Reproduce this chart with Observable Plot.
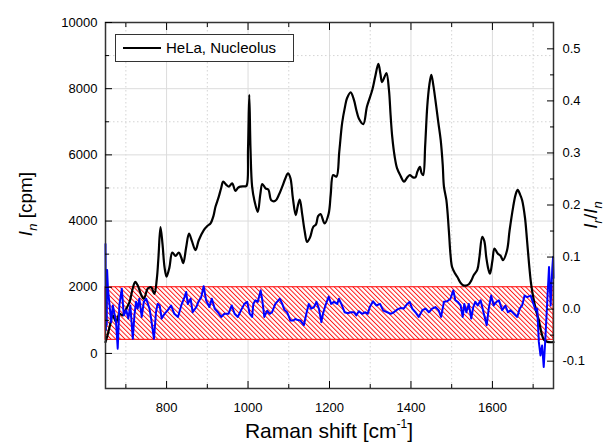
<!DOCTYPE html>
<html><head><meta charset="utf-8">
<script src="https://cdn.jsdelivr.net/npm/d3@7"></script>
<script src="https://cdn.jsdelivr.net/npm/@observablehq/plot@0.6"></script>
<style>
body{margin:0;background:#fff;}
#wrap{position:relative;width:604px;height:444px;overflow:hidden;font-family:Arial,"Liberation Sans",sans-serif;}
#legend{position:absolute;left:115px;top:34px;width:177px;height:26px;border:1px solid #333;background:#fff;}
#legend .sw{position:absolute;left:7px;top:12px;width:38px;height:2px;background:#000;}
#legend .lb{position:absolute;left:50px;top:3px;font-size:15px;line-height:20px;color:#000;white-space:nowrap;}
</style></head><body><div id="wrap"></div>
<script>
// Black spectrum: HeLa, Nucleolus (left axis, I_n [cpm])
const blackWave = [650,655,660,668,676,684,692,701,709,717,723,729,738,744,754,762,770,776,780,785,790,795,800,807,814,822,830,836,841,848,855,862,871,879,891,900,908,915,920,928,934,939,946,953,961,969,975,981,990,996,1000,1003,1006,1010,1016,1024,1030,1035,1043,1050,1057,1067,1076,1084,1092,1098,1104,1110,1117,1122,1127,1133,1139,1145,1152,1160,1167,1172,1178,1188,1198,1203,1209,1217,1224,1231,1238,1243,1252,1260,1266,1272,1283,1292,1305,1312,1320,1325,1329,1335,1340,1346,1350,1354,1360,1366,1375,1383,1390,1397,1405,1411,1416,1422,1426,1430,1435,1440,1445,1450,1455,1460,1467,1473,1478,1481,1487,1493,1497,1501,1508,1514,1521,1528,1535,1542,1548,1554,1563,1568,1575,1580,1585,1590,1594,1600,1605,1613,1620,1626,1636,1642,1651,1657,1662,1668,1673,1680,1685,1690,1695,1701,1707,1714,1720,1726,1735,1750];
const blackInt = [340,550,800,1150,950,1200,1150,1350,1550,1970,2160,2060,1760,1650,1960,2000,1800,2250,2900,3820,3300,2600,2320,2600,3050,2950,3050,2900,2730,3200,3620,3400,3120,3420,3720,3850,3930,4150,4430,4730,5000,5190,5100,5040,5140,4910,5000,5040,5050,5060,6200,7810,6200,5040,4600,4280,4800,5120,4990,4950,4630,4610,4800,5040,5300,5440,5300,4700,4180,4450,4650,4200,3700,3370,3500,3820,3900,4150,4210,3930,4230,4800,5390,5340,6100,6960,7450,7710,7890,7660,7350,7100,6930,7460,7960,8350,8750,8450,8200,8350,8470,7960,7200,6550,5950,5590,5350,5190,5300,5390,5320,5320,5500,5640,5450,5390,6300,7460,8100,8420,8100,7660,7000,6450,5700,5040,4630,3720,3000,2610,2420,2310,2150,2060,2050,2090,2200,2360,2530,2900,3520,3400,2900,2550,2410,2800,3170,3020,2950,2820,3120,3700,4430,4800,4940,4800,4630,4100,3420,2700,2100,1650,1300,1000,650,420,350,340];

// Blue ratio I_r/I_n (right axis)
const blueWave = [650,651,652,653,654,656,660,664,668,672,676,680,684,690,695,701,706,711,717,721,725,729,733,739,744,750,758,762,769,774,778,783,788,795,803,811,819,828,836,844,848,852,859,864,873,878,885,891,897,905,911,918,926,934,942,952,960,967,975,983,991,998,1004,1010,1013,1018,1024,1031,1035,1040,1047,1053,1059,1067,1078,1084,1089,1096,1104,1111,1116,1122,1129,1137,1144,1149,1155,1162,1168,1174,1180,1184,1190,1198,1204,1211,1219,1223,1229,1237,1245,1252,1260,1266,1272,1280,1288,1294,1299,1307,1315,1324,1332,1342,1350,1358,1366,1374,1382,1391,1397,1403,1411,1419,1428,1436,1444,1452,1460,1468,1474,1481,1489,1497,1504,1509,1515,1522,1527,1531,1536,1542,1548,1553,1558,1564,1571,1579,1586,1591,1597,1603,1610,1616,1624,1632,1638,1644,1653,1661,1667,1673,1679,1685,1694,1702,1706,1710,1714,1718,1722,1726,1730,1735,1739,1743,1747,1749,1750];
const blueRatio = [0.125,-0.04,0.06,-0.03,0.075,0.039,0.007,-0.025,0.007,-0.009,-0.025,-0.076,0.007,0.039,-0.012,-0.002,-0.018,0.007,-0.057,-0.012,0.014,0.001,0.020,-0.015,0.014,0.020,0.001,-0.018,-0.057,-0.006,0.010,0.007,-0.018,-0.009,-0.002,0.007,-0.009,-0.015,0.007,0.023,0.033,0.010,0.020,-0.006,0.004,0.014,0.023,0.044,0.017,0.004,0.020,0.001,-0.006,-0.015,-0.009,-0.009,0.007,-0.009,-0.015,-0.002,0.010,0.014,-0.009,-0.015,0.010,0.017,0.014,0.036,0.017,-0.015,-0.003,-0.009,-0.006,0.010,0.020,0.010,-0.001,-0.006,-0.022,-0.022,-0.019,-0.021,-0.022,-0.031,-0.006,0.010,0.001,0.004,0.014,0.001,-0.025,-0.009,0.007,0.024,0.010,0.014,0.010,0.020,0.010,-0.006,-0.008,-0.006,-0.006,-0.012,-0.004,-0.009,-0.006,-0.009,0.004,0.015,0.007,0.010,-0.003,-0.006,-0.009,-0.006,-0.001,0.002,0.001,0.010,0.014,0.001,-0.006,-0.015,-0.002,0.001,-0.006,0.001,0.004,-0.002,-0.015,0.014,0.015,0.020,0.036,0.017,0.014,0.007,-0.015,0.010,-0.006,0.010,-0.018,0.004,0.014,0.007,0.017,-0.009,-0.031,0.001,0.026,0.007,0.014,0.017,-0.002,0.007,-0.006,-0.002,-0.009,-0.015,0.001,0.007,0.026,0.023,0.026,0.007,-0.002,0.001,-0.063,-0.089,-0.070,-0.111,-0.057,0.020,0.081,0.007,0.078,0.100,0.06];

// hatched band (right-axis units)
const bandLow = -0.059, bandHigh = 0.042;

// axes
const xDomain = [650, 1750];
const yDomain = [-1060, 10000];
const rDomain = [-0.1525, 0.5506];
const xMajor = [800, 1000, 1200, 1400, 1600];
const xMinor = [700, 900, 1100, 1300, 1500, 1700];
const yMajor = [0, 2000, 4000, 6000, 8000, 10000];
const yMinor = [1000, 3000, 5000, 7000, 9000];
const rMajor = [-0.1, 0.0, 0.1, 0.2, 0.3, 0.4, 0.5];
const rMinor = [-0.05, 0.05, 0.15, 0.25, 0.35, 0.45];

const r2y = r => yDomain[0] + (r - rDomain[0]) / (rDomain[1] - rDomain[0]) * (yDomain[1] - yDomain[0]);
const y2r = v => rDomain[0] + (v - yDomain[0]) / (yDomain[1] - yDomain[0]) * (rDomain[1] - rDomain[0]);

const black = blackWave.map((w, i) => ({w, v: blackInt[i]}));
const blue = blueWave.map((w, i) => ({w, r: blueRatio[i]}));
const band = [{x1: xDomain[0], x2: xDomain[1], lo: bandLow, hi: bandHigh}];
const none = () => "";

const plot = Plot.plot({
  width: 604, height: 444,
  marginLeft: 105, marginRight: 51, marginTop: 22, marginBottom: 56,
  style: {fontFamily: 'Arial, "Liberation Sans", sans-serif', fontSize: "13px", color: "#000", background: "#fff", overflow: "visible"},
  x: {domain: xDomain, label: null},
  y: {domain: yDomain, label: null},
  marks: [
    Plot.gridX(xMinor, {stroke: "#d4d4d4", strokeOpacity: 1, strokeDasharray: "1.5,2.5"}),
    Plot.gridX(xMajor, {stroke: "#dcdcdc", strokeOpacity: 1}),
    Plot.gridY(yMinor, {stroke: "#d4d4d4", strokeOpacity: 1, strokeDasharray: "1.5,2.5"}),
    Plot.gridY(yMajor, {stroke: "#dcdcdc", strokeOpacity: 1}),
    Plot.rect(band, {x1: "x1", x2: "x2", y1: d => r2y(d.lo), y2: d => r2y(d.hi), fill: "url(#hatch)", stroke: "#ff0000", strokeWidth: 1}),
    Plot.line(black, {x: "w", y: "v", stroke: "#000", strokeWidth: 2.2, curve: "catmull-rom"}),
    Plot.line(blue, {x: "w", y: d => r2y(d.r), stroke: "#0000ff", strokeWidth: 2}),
    Plot.frame({stroke: "#333", strokeWidth: 1.5}),
    Plot.axisX(xMajor, {anchor: "bottom", tickSize: -7, tickPadding: 21, tickFormat: d => String(d), label: null}),
    Plot.axisX(xMinor, {anchor: "bottom", tickSize: -4, tickFormat: none, label: null}),
    Plot.axisX(xMajor, {anchor: "top", tickSize: -7, tickFormat: none, label: null}),
    Plot.axisX(xMinor, {anchor: "top", tickSize: -4, tickFormat: none, label: null}),
    Plot.axisY(yMajor, {anchor: "left", tickSize: -7, tickPadding: 15, tickFormat: d => String(d), label: null}),
    Plot.axisY(yMinor, {anchor: "left", tickSize: -4, tickFormat: none, label: null}),
    Plot.axisY(rMajor.map(r2y), {anchor: "right", tickSize: -7, tickPadding: 16, tickFormat: v => d3.format(".1f")(y2r(v)).replace("\u2212", "-"), label: null}),
    Plot.axisY(rMinor.map(r2y), {anchor: "right", tickSize: -4, tickFormat: none, label: null})
  ]
});

const svg = d3.select(plot);
const defs = svg.insert("defs", ":first-child");
const pat = defs.append("pattern").attr("id", "hatch").attr("patternUnits", "userSpaceOnUse")
  .attr("width", 3.3).attr("height", 3.3).attr("patternTransform", "rotate(-45)");
pat.append("rect").attr("width", 3.3).attr("height", 3.3).attr("fill", "#fff");
pat.append("line").attr("x1", 0.5).attr("y1", 0).attr("x2", 0.5).attr("y2", 3.3).attr("stroke", "#ff0000").attr("stroke-width", 0.9);

// x title
const xt = svg.append("text").attr("x", 329).attr("y", 438).attr("text-anchor", "middle")
  .attr("font-size", 21).attr("fill", "#000");
xt.append("tspan").text("Raman shift [cm");
xt.append("tspan").attr("font-size", 12).attr("dy", -10).text("-1");
xt.append("tspan").attr("dy", 10).text("]");

// left title
const yt = svg.append("text").attr("transform", "translate(32,204) rotate(-90)").attr("text-anchor", "middle")
  .attr("font-size", 19).attr("fill", "#000");
yt.append("tspan").attr("font-style", "italic").text("I");
yt.append("tspan").attr("font-style", "italic").attr("font-size", 13).attr("dy", 5).text("n");
yt.append("tspan").attr("dy", -5).text(" [cpm]");

// right title
const rt = svg.append("text").attr("transform", "translate(597,215) rotate(-90)").attr("text-anchor", "middle")
  .attr("font-size", 19).attr("fill", "#000");
rt.append("tspan").attr("font-style", "italic").text("I");
rt.append("tspan").attr("font-style", "italic").attr("font-size", 13).attr("dy", 5).text("r");
rt.append("tspan").attr("dy", -5).text("/");
rt.append("tspan").attr("font-style", "italic").text("I");
rt.append("tspan").attr("font-style", "italic").attr("font-size", 13).attr("dy", 5).text("n");

const wrap = document.getElementById("wrap");
wrap.appendChild(plot);
const leg = document.createElement("div");
leg.id = "legend";
leg.innerHTML = '<div class="sw"></div><div class="lb">HeLa, Nucleolus</div>';
wrap.appendChild(leg);
</script>
</body></html>
